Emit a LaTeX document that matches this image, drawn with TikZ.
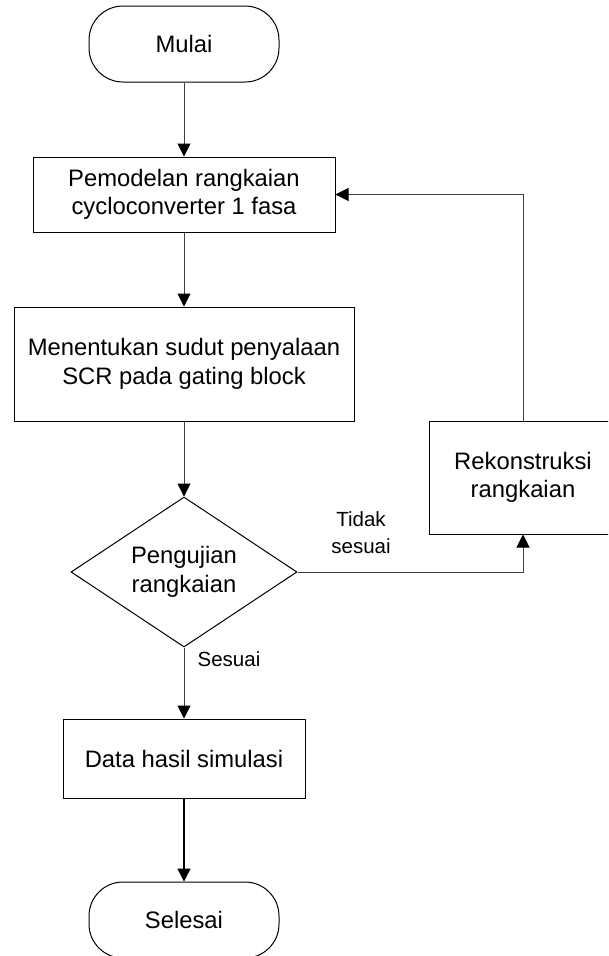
\documentclass[tikz,border=0pt]{standalone}
\usepackage{fontspec}
\setmainfont{Liberation Sans}
\usetikzlibrary{shapes.geometric,arrows.meta}

\tikzset{
  teks/.style={font=\fontsize{23.8}{28.5}\selectfont, align=center, inner sep=0pt},
  terminal/.style={teks, draw, line width=1pt, rounded corners=34pt, minimum width=190pt, minimum height=76pt},
  prosesbox/.style={teks, draw, line width=1pt},
  keputusan/.style={teks, draw, line width=1pt, diamond, shape aspect=1.5, minimum width=226pt, minimum height=150pt},
  panah/.style={draw=black!75, line width=1pt, -{Triangle[length=13pt,width=13pt,color=black]}},
  ket/.style={font=\fontsize{20.5}{27}\selectfont, align=center, inner sep=0pt}
}

\begin{document}
\begin{tikzpicture}[x=1pt, y=-1pt]
  \clip (0,0) rectangle (608,956);

  % blok-blok alur
  \node[terminal] (mulai) at (184,44) {Mulai};
  \node[prosesbox, minimum width=302pt, minimum height=75pt] (model) at (184,194.5)
    {Pemodelan rangkaian\\cycloconverter 1 fasa};
  \node[prosesbox, minimum width=340pt, minimum height=114pt] (sudut) at (184,364)
    {Menentukan sudut penyalaan\\SCR pada gating block};
  \node[keputusan] (uji) at (184,572) {Pengujian\\rangkaian};
  \node[prosesbox, minimum width=188pt, minimum height=113pt] (rekon) at (523,477.5)
    {Rekonstruksi\\rangkaian};
  \node[prosesbox, minimum width=242pt, minimum height=79pt] (data) at (184,758.5)
    {Data hasil simulasi};
  \node[terminal] (selesai) at (184,920) {Selesai};

  % panah
  \draw[panah] (mulai) -- (model);
  \draw[panah] (model) -- (sudut);
  \draw[panah] (sudut) -- (uji);
  \draw[panah] (uji) -- (data);
  \draw[panah, draw=black, line width=1.4pt] (data) -- (selesai);
  \draw[panah] (uji.east) -| (rekon.south);
  \draw[panah] (rekon.north) |- (model.east);

  % keterangan
  \node[ket] (tidak) at (361,533) {Tidak\\sesuai};
  \node[ket] (sesuai) at (229,659) {Sesuai};
\end{tikzpicture}
\end{document}
